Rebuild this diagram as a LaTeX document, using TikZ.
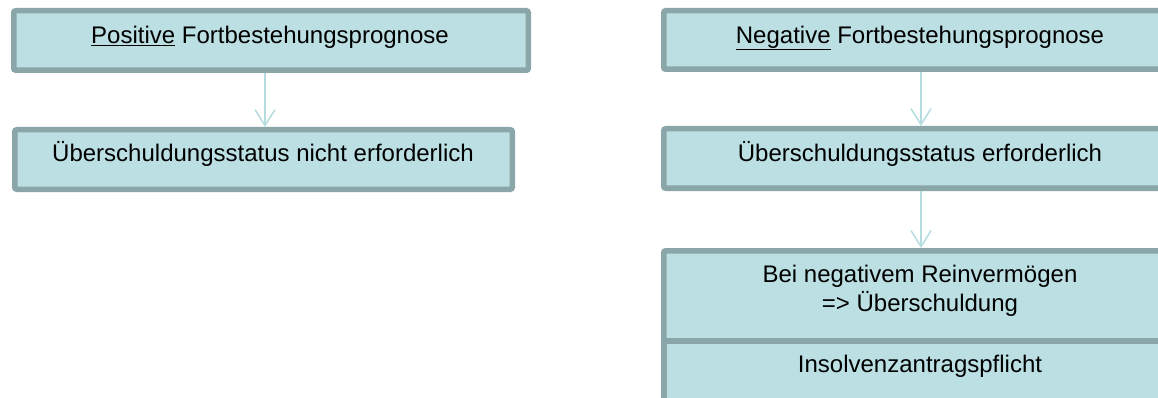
\documentclass[tikz,border=0pt]{standalone}
\usepackage{fontspec}
\setmainfont{Liberation Sans}
\usetikzlibrary{arrows.meta}
\definecolor{boxfill}{HTML}{BBDFE3}
\definecolor{boxline}{HTML}{8BA6A8}
\definecolor{arrcol}{HTML}{B5DCDF}
\tikzset{
  box/.style={draw=boxline, fill=boxfill, line width=5.5pt, rounded corners=2pt, inner sep=0pt, outer sep=0pt},
  txt/.style={anchor=base, inner sep=0pt, align=center, font=\fontsize{24}{29}\selectfont},
  arr/.style={draw=arrcol, line width=1.5pt, -{Straight Barb[length=16pt,width=20pt,line width=1.5pt]}, shorten >=2.75pt, shorten <=2.75pt}
}
\begin{document}
\begin{tikzpicture}[x=1pt,y=-1pt]
\useasboundingbox (0,0) rectangle (1158,398);
\clip (0,0) rectangle (1158,398);
% left column
\node[box, minimum width=514.5pt, minimum height=59.5pt] (pl) at (271,40.5) {};
\node[box, minimum width=497.5pt, minimum height=59.5pt] (nl) at (263.5,159.5) {};
% right column
\node[box, minimum width=512.5pt, minimum height=58.5pt] (pr) at (920,40) {};
\node[box, minimum width=512.5pt, minimum height=59.5pt] (nr) at (920,158.5) {};
\node[box, minimum width=512.5pt, minimum height=90pt] (ra) at (920,295.75) {};
\node[box, minimum width=512.5pt, minimum height=119.5pt, rounded corners=0pt] (rb) at (920,400.5) {};
% texts
\node[txt] (tpl) at (270,43.3) {\underline{Positive} Fortbestehungsprognose};
\node[txt] (tnl) at (263,161.7) {Überschuldungsstatus nicht erforderlich};
\node[txt] (tpr) at (920,43.3) {\underline{Negative} Fortbestehungsprognose};
\node[txt] (tnr) at (920,161.7) {Überschuldungsstatus erforderlich};
\node[txt] (tra) at (920,311.7) {Bei negativem Reinvermögen\\=> Überschuldung};
\node[txt] (trb) at (920,372.7) {Insolvenzantragspflicht};
% arrows
\draw[arr] ([xshift=-6pt]pl.south) -- ([xshift=-6pt]pl.south |- nl.north);
\draw[arr] ([xshift=1pt]pr.south) -- ([xshift=1pt]pr.south |- nr.north);
\draw[arr] ([xshift=1pt]nr.south) -- ([xshift=1pt]nr.south |- ra.north);
\end{tikzpicture}
\end{document}
